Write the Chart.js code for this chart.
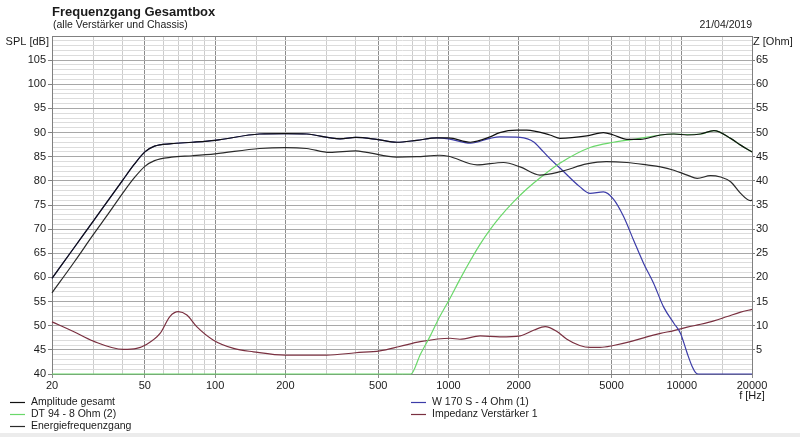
<!DOCTYPE html>
<html>
<head>
<meta charset="utf-8">
<title>Frequenzgang Gesamtbox</title>
<script src="https://cdn.jsdelivr.net/npm/chart.js@4.4.0/dist/chart.umd.min.js"></script>
<style>
    html, body { margin: 0; padding: 0; background: #fff; }
    #wrap { width: 800px; height: 437px; position: relative; }
</style>
</head>
<body>
<div id="wrap"><canvas id="freqChart"></canvas></div>
<script>
// x grid (Hz) and which of them get a label
const xGrid = [20, 30, 40, 50, 60, 70, 80, 90, 100, 150, 200, 300, 400, 500, 600, 700, 800, 900,
    1000, 1500, 2000, 3000, 4000, 5000, 6000, 7000, 8000, 9000, 10000, 15000, 20000];
const xLabels = [20, 50, 100, 200, 500, 1000, 2000, 5000, 10000, 20000];
const splLabels = [40, 45, 50, 55, 60, 65, 70, 75, 80, 85, 90, 95, 100, 105];
const ohmLabels = [5, 10, 15, 20, 25, 30, 35, 40, 45, 50, 55, 60, 65];

// Amplitude gesamt
const ampFreq = [20, 25, 30, 35, 40, 45, 50, 55, 65, 80, 100, 155, 200, 247, 343, 400, 492, 600, 732, 892, 1000,
    1242, 1508, 1660, 1964, 2166, 2722, 3014, 3916, 4616, 5096, 5816, 6644, 8106, 9250, 10552, 12040, 13732,
    16196, 17874, 20000];
const ampSpl = [59.8, 66.3, 71.6, 76.1, 80.0, 83.4, 86.0, 87.2, 87.7, 88.0, 88.4, 89.7, 89.8, 89.7, 88.7, 89.0,
    88.6, 88.0, 88.4, 88.9, 88.9, 88.0, 89.1, 90.0, 90.5, 90.5, 89.5, 88.8, 89.3, 90.0, 89.5, 88.6, 88.6, 89.5,
    89.7, 89.5, 89.7, 90.4, 88.8, 87.4, 86.0];

// W 170 S - 4 Ohm (1)
const wFreq = [20, 25, 30, 35, 40, 45, 50, 55, 65, 80, 100, 155, 200, 247, 343, 400, 492, 600, 732, 892, 1000,
    1242, 1508, 1660, 2028, 2330, 2466, 2722, 3014, 3652, 4046, 4616, 5096, 5632, 6218, 6864, 7572, 8354, 9250,
    9880, 10552, 11094, 11460, 11800, 20000];
const wSpl = [59.8, 66.3, 71.6, 76.1, 80.0, 83.4, 86.0, 87.2, 87.7, 88.0, 88.4, 89.7, 89.8, 89.7, 88.7, 89.0,
    88.6, 88.0, 88.4, 88.9, 88.7, 87.8, 88.8, 89.1, 89.0, 88.0, 86.8, 84.6, 82.6, 78.8, 77.4, 77.7, 76.2, 72.6,
    67.7, 62.9, 58.8, 53.9, 50.5, 48.4, 44.3, 41.5, 40.3, 40, 40];

// DT 94 - 8 Ohm (2)
const dtFreq = [20, 690, 757, 836, 916, 1016, 1120, 1242, 1368, 1508, 1660, 1896, 2166, 2466, 3014, 4046, 5096,
    6218, 8106, 9250, 10552, 12040, 13732, 16196, 17874, 20000];
const dtSpl = [40, 40, 44.0, 47.9, 51.8, 55.7, 59.6, 63.5, 66.9, 69.9, 72.5, 75.6, 78.3, 80.6, 83.7, 86.9, 88.0,
    88.6, 89.5, 89.7, 89.6, 89.7, 90.4, 88.8, 87.4, 86.0];

// Energiefrequenzgang
const energyFreq = [20, 25, 30, 35, 40, 45, 50, 55, 65, 80, 100, 155, 200, 247, 310, 400, 446, 600, 732, 916,
    1000, 1326, 1722, 2028, 2466, 3014, 3916, 4742, 5816, 7089, 8106, 9250, 10552, 11652, 13290, 14658, 16196,
    17874, 19674, 20000];
const energySpl = [56.8, 63.3, 68.8, 73.3, 77.3, 80.6, 83.0, 84.2, 84.9, 85.2, 85.6, 86.7, 86.9, 86.7, 85.9,
    86.2, 85.9, 84.9, 85.0, 85.3, 85.1, 83.3, 83.8, 82.9, 81.2, 81.9, 83.5, 84.0, 83.8, 83.3, 82.9, 82.2, 81.2,
    80.5, 81.1, 80.8, 79.8, 77.4, 75.9, 76.0];

// Impedanz Verstärker 1 (Ohm, right axis)
const impFreq = [20, 24.7, 30.1, 40.4, 46.1, 50.3, 58.1, 64, 69.6, 75.7, 83.4, 98.4, 120, 146, 200, 301, 400,
    508, 618, 757, 1016, 1120, 1368, 1660, 2028, 2330, 2598, 2918, 3220, 3652, 4046, 4466, 5096, 6016, 7089,
    8106, 9250, 10552, 12040, 13732, 15670, 17874, 20000];
const impOhm = [10.8, 8.8, 6.8, 5.1, 5.3, 6.0, 8.4, 11.9, 12.9, 12.2, 9.8, 7.0, 5.3, 4.6, 3.9, 3.9, 4.4, 4.8,
    5.7, 6.7, 7.4, 7.2, 7.9, 7.7, 7.9, 9.1, 9.8, 8.8, 7.2, 5.9, 5.5, 5.5, 5.9, 6.7, 7.7, 8.4, 9.0, 9.7, 10.3,
    11.0, 11.9, 12.8, 13.4];

const FONT = '"Liberation Sans", Arial, sans-serif';
const TEXT = '#1a1a1a';

const toPoints = (xs, ys) => xs.map((x, i) => ({ x: x, y: ys[i] }));

const line = (label, color, xs, ys, order, axis) => ({
    label: label,
    data: toPoints(xs, ys),
    borderColor: color,
    backgroundColor: color,
    borderWidth: 1.2,
    pointRadius: 0,
    cubicInterpolationMode: 'monotone',
    yAxisID: axis || 'y',
    order: order,
    clip: 2
});

// where each legend entry sits: [column x, row y]
const legendSlots = [[10, 402], [411, 402], [10, 414], [411, 414], [10, 426]];

const textPlugin = {
    id: 'textPlugin',
    afterDraw(chart) {
        const c = chart.ctx;
        const area = chart.chartArea;
        c.save();
        c.fillStyle = '#ececec';
        c.fillRect(0, 433, 800, 4);

        c.fillStyle = TEXT;
        c.textBaseline = 'middle';
        c.textAlign = 'left';
        c.font = 'bold 13px ' + FONT;
        c.fillText('Frequenzgang Gesamtbox', 52, 12);
        c.font = '10.5px ' + FONT;
        c.fillText('(alle Verstärker und Chassis)', 53, 25);
        c.textAlign = 'right';
        c.fillText('21/04/2019', 752, 25);
        c.font = '11px ' + FONT;
        c.fillText('SPL [dB]', 49, 42);
        c.textAlign = 'left';
        c.fillText('Z [Ohm]', 753, 42);
        c.textAlign = 'center';
        c.fillText('f [Hz]', area.right, 396);

        // legend, two columns
        c.textAlign = 'left';
        c.font = '10.5px ' + FONT;
        c.lineWidth = 1.2;
        chart.data.datasets.forEach((ds, i) => {
            const [lx, ly] = legendSlots[i];
            c.strokeStyle = ds.borderColor;
            c.beginPath();
            c.moveTo(lx, ly + 0.5);
            c.lineTo(lx + 15, ly + 0.5);
            c.stroke();
            c.fillStyle = TEXT;
            c.fillText(ds.label, lx + 21, ly);
        });
        c.restore();
    }
};

const ctx = document.getElementById('freqChart');

new Chart(ctx, {
    type: 'line',
    data: {
        datasets: [
            line('Amplitude gesamt', '#111111', ampFreq, ampSpl, 0),
            line('W 170 S - 4 Ohm (1)', '#3c3ca8', wFreq, wSpl, 3),
            line('DT 94 - 8 Ohm (2)', '#6ad86a', dtFreq, dtSpl, 2),
            line('Impedanz Verstärker 1', '#7a3040', impFreq, impOhm, 4, 'y2'),
            line('Energiefrequenzgang', '#2a2a2a', energyFreq, energySpl, 1)
        ]
    },
    options: {
        responsive: true,
        maintainAspectRatio: false,
        animation: false,
        layout: { padding: { top: 36, left: 0, right: 0, bottom: 0 } },
        plugins: {
            legend: { display: false },
            tooltip: { enabled: false }
        },
        scales: {
            x: {
                type: 'logarithmic',
                min: 20,
                max: 20000,
                afterBuildTicks: s => { s.ticks = xGrid.map(v => ({ value: v })); },
                afterFit: s => { s.height = 63; },
                ticks: {
                    autoSkip: false,
                    maxRotation: 0,
                    padding: 1,
                    color: TEXT,
                    font: { family: FONT, size: 11 },
                    callback: v => xLabels.includes(v) ? String(v) : ''
                },
                grid: {
                    color: c => xLabels.includes(c.tick.value) ? '#8c8c8c' : '#cccccc',
                    tickColor: c => xLabels.includes(c.tick.value) ? '#8c8c8c' : 'rgba(0,0,0,0)',
                    tickLength: 4
                },
                border: { color: '#808080' }
            },
            y: {
                position: 'left',
                min: 40,
                max: 110,
                afterBuildTicks: s => {
                    const t = [];
                    for (let v = 40; v <= 110; v++) t.push({ value: v });
                    s.ticks = t;
                },
                afterFit: s => { s.width = 52; },
                ticks: {
                    autoSkip: false,
                    padding: 2,
                    color: TEXT,
                    font: { family: FONT, size: 11 },
                    callback: v => splLabels.includes(v) ? String(v) : ''
                },
                grid: {
                    color: c => c.tick.value === 110 ? '#808080' : (c.tick.value % 5 === 0 ? '#a8a8a8' : '#dcdcdc'),
                    tickColor: c => splLabels.includes(c.tick.value) ? '#808080' : 'rgba(0,0,0,0)',
                    tickLength: 4
                },
                border: { color: '#808080' }
            },
            y2: {
                position: 'right',
                min: 0,
                max: 70,
                afterBuildTicks: s => { s.ticks = ohmLabels.map(v => ({ value: v })); },
                afterFit: s => { s.width = 48; },
                ticks: {
                    autoSkip: false,
                    padding: 1,
                    color: TEXT,
                    font: { family: FONT, size: 11 }
                },
                grid: {
                    drawOnChartArea: false,
                    color: '#808080',
                    tickLength: 3
                },
                border: { color: '#808080' }
            }
        }
    },
    plugins: [textPlugin]
});
</script>
</body>
</html>
